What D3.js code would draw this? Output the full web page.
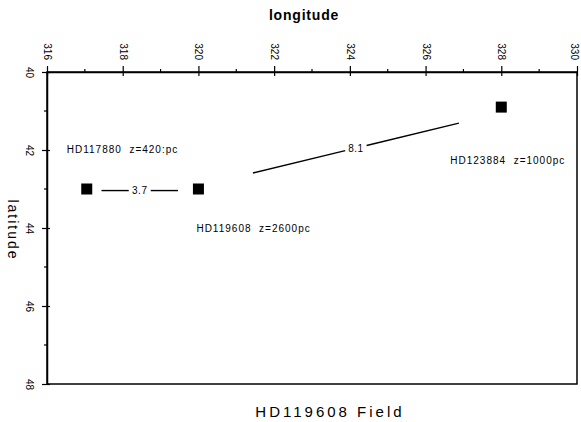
<!DOCTYPE html>
<html>
<head>
<meta charset="utf-8">
<script src="https://cdn.jsdelivr.net/npm/d3@7"></script>
<style>
    body { margin: 0; background: #fff; }
    svg { display: block; }
    text { font-family: "Liberation Sans", Arial, sans-serif; fill: #000; }
</style>
</head>
<body>
<svg id="chart" width="581" height="422"></svg>
<script>
// stars in the field (galactic longitude / latitude)
const starNames = ["HD117880", "HD119608", "HD123884"];
const starLon = [317.05, 320.0, 328.0];
const starLat = [43.0, 43.0, 40.9];
const starZ = ["z=420:pc", "z=2600pc", "z=1000pc"];

// separation lines between stars
const sepLabels = ["3.7", "8.1"];
const sepLon1 = [317.44, 321.44];
const sepLat1 = [43.04, 42.59];
const sepLon2 = [319.46, 326.88];
const sepLat2 = [43.04, 41.31];

const lonTicks = [316, 318, 320, 322, 324, 326, 328, 330];
const lonMinor = [317, 319, 321, 323, 325, 327, 329];
const latTicks = [40, 42, 44, 46, 48];
const latMinor = [41, 43, 45, 47];

const svg = d3.select("#chart");
const x = d3.scaleLinear().domain([316, 330]).range([47, 577]);
const y = d3.scaleLinear().domain([40, 48]).range([72, 384]);

// frame
svg.append("rect")
    .attr("x", x(316)).attr("y", y(40))
    .attr("width", x(330) - x(316)).attr("height", y(48) - y(40))
    .attr("fill", "none").attr("stroke", "#000").attr("stroke-width", 1.5);

// top axis
const topAxis = svg.append("g")
    .attr("transform", `translate(0,${y(40)})`)
    .call(d3.axisTop(x).tickValues(lonTicks).tickSize(6).tickSizeOuter(0).tickFormat(d3.format("d")));
topAxis.select(".domain").attr("stroke-width", 1.5);
topAxis.selectAll(".tick line").attr("y1", 4).attr("stroke-width", 1.2);
topAxis.selectAll(".tick text")
    .attr("x", 0).attr("y", 0)
    .attr("dy", (d) => d === 330 ? "0.65em" : "0.35em")
    .attr("text-anchor", "end")
    .attr("transform", "translate(0,-12) rotate(90)")
    .style("font-size", "10px");
topAxis.selectAll(".minor").data(lonMinor).join("line")
    .attr("class", "minor")
    .attr("x1", (d) => x(d)).attr("x2", (d) => x(d))
    .attr("y1", 0).attr("y2", -3)
    .attr("stroke", "#000").attr("stroke-width", 1.2);

// left axis
const leftAxis = svg.append("g")
    .attr("transform", `translate(${x(316)},0)`)
    .call(d3.axisLeft(y).tickValues(latTicks).tickSize(5).tickSizeOuter(0).tickFormat(d3.format("d")));
leftAxis.select(".domain").attr("stroke-width", 1.5);
leftAxis.selectAll(".tick line").attr("x1", 3).attr("stroke-width", 1.2);
leftAxis.selectAll(".tick text")
    .attr("x", 0).attr("y", 0).attr("dy", "0.35em")
    .attr("text-anchor", "middle")
    .attr("transform", "translate(-18,0) rotate(90)")
    .style("font-size", "10px");
leftAxis.selectAll(".minor").data(latMinor).join("line")
    .attr("class", "minor")
    .attr("y1", (d) => y(d)).attr("y2", (d) => y(d))
    .attr("x1", 0).attr("x2", -3)
    .attr("stroke", "#000").attr("stroke-width", 1.2);

// axis titles
svg.append("text")
    .attr("x", 304).attr("y", 20)
    .attr("text-anchor", "middle")
    .style("font-size", "14px").style("font-weight", "bold").style("letter-spacing", "0.8px")
    .text("longitude");
svg.append("text")
    .attr("transform", "translate(13,230) rotate(90)")
    .attr("text-anchor", "middle").attr("dy", "0.35em")
    .style("font-size", "14px").style("letter-spacing", "2px")
    .text("latitude");
svg.append("text")
    .attr("x", 330).attr("y", 417)
    .attr("text-anchor", "middle")
    .style("font-size", "15px").style("letter-spacing", "3px")
    .text("HD119608 Field");

// separation lines, broken around their label
const gap = 11;
const seps = sepLabels.map((label, i) => {
    const x1 = x(sepLon1[i]), y1 = y(sepLat1[i]);
    const x2 = x(sepLon2[i]), y2 = y(sepLat2[i]);
    const len = Math.hypot(x2 - x1, y2 - y1);
    const ux = (x2 - x1) / len, uy = (y2 - y1) / len;
    const mx = (x1 + x2) / 2, my = (y1 + y2) / 2;
    return { label, x1, y1, x2, y2, mx, my, ux, uy };
});
const sepG = svg.append("g").selectAll("g").data(seps).join("g");
sepG.append("line")
    .attr("x1", (d) => d.x1).attr("y1", (d) => d.y1)
    .attr("x2", (d) => d.mx - d.ux * gap).attr("y2", (d) => d.my - d.uy * gap);
sepG.append("line")
    .attr("x1", (d) => d.mx + d.ux * gap).attr("y1", (d) => d.my + d.uy * gap)
    .attr("x2", (d) => d.x2).attr("y2", (d) => d.y2);
sepG.selectAll("line").attr("stroke", "#000").attr("stroke-width", 1.4);
sepG.append("text")
    .attr("x", (d) => d.mx).attr("y", (d) => d.my)
    .attr("dy", "0.35em").attr("text-anchor", "middle")
    .style("font-size", "10px").style("letter-spacing", "0.5px")
    .text((d) => d.label);

// stars
const labelOffset = [[-20, -36], [-2, 43], [-51, 57]];
const stars = starNames.map((name, i) => ({ name, lon: starLon[i], lat: starLat[i], z: starZ[i], i }));
const starG = svg.append("g").selectAll("g").data(stars).join("g")
    .attr("transform", (d) => `translate(${x(d.lon)},${y(d.lat)})`);
starG.append("rect")
    .attr("x", -5.5).attr("y", -5.5).attr("width", 11).attr("height", 11)
    .attr("fill", "#000");
starG.append("text")
    .attr("x", (d) => labelOffset[d.i][0]).attr("y", (d) => labelOffset[d.i][1])
    .style("font-size", "10px").style("letter-spacing", "1px")
    .style("white-space", "pre")
    .text((d) => d.name + "  " + d.z);
</script>
</body>
</html>
